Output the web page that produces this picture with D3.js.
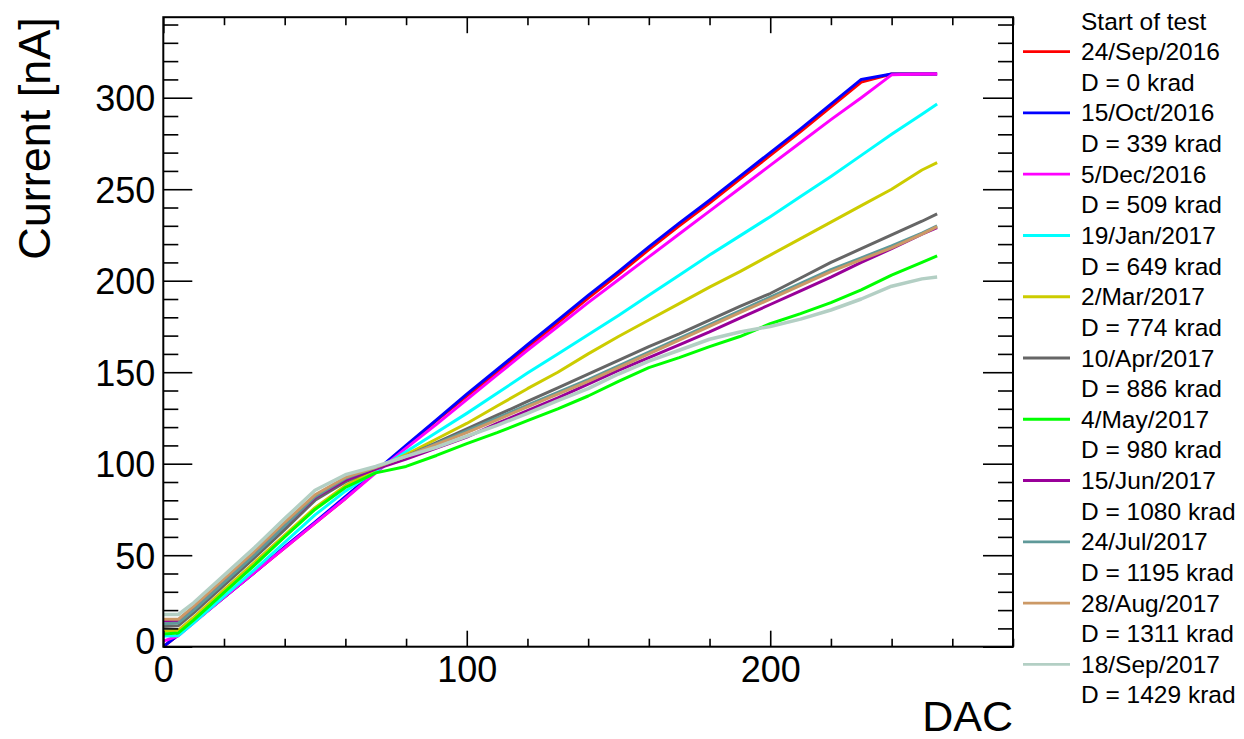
<!DOCTYPE html>
<html>
<head>
<meta charset="utf-8">
<script src="https://cdn.jsdelivr.net/npm/d3@7"></script>
<style>
  html, body { margin: 0; padding: 0; background: #fff; }
  svg { display: block; font-family: "Liberation Sans", Arial, Helvetica, sans-serif; }
</style>
</head>
<body>
<svg id="chart" width="1244" height="739"></svg>
<script>
// ---------------- data ----------------
const dac = [0, 5, 10, 20, 30, 40, 50, 60, 70, 80, 90, 100, 110, 120, 130, 140, 150, 160, 170, 180, 190, 200, 210, 220, 230, 240, 250, 255];

const cur24Sep2016 = [0, 6.5, 13.5, 27, 40.5, 54, 67.5, 81, 95.5, 109.5, 123.5, 137, 150, 163.5, 177, 190.5, 203.5, 217, 230, 242.5, 255.5, 268.5, 281.5, 295, 308.5, 313, 313, 313];
const cur15Oct2016 = [0, 6.5, 13.5, 27, 40.5, 54.5, 68, 82, 96, 110, 124, 138, 151.5, 165, 178.5, 192, 205, 218.5, 231.5, 244, 257, 270, 283, 296.5, 310, 313, 313, 313];
const cur5Dec2016  = [3, 6, 13, 27, 40.5, 54, 67.5, 81, 95, 108.5, 121.5, 135, 148.5, 162, 175, 188, 200.5, 213, 225.5, 238, 250.5, 263, 275.5, 288, 300, 312.5, 313, 313];
const cur19Jan2017 = [5.8, 6, 13, 27.5, 42, 57, 72, 85, 96, 106.5, 117, 127.5, 138.5, 149.5, 160, 170.5, 181, 192, 203, 214, 224.5, 235, 246, 257, 268.5, 280, 291, 296.6];
const cur2Mar2017  = [8.5, 9, 16, 31, 46, 61, 76, 88, 97, 105, 113.5, 122, 131.5, 141, 150, 160, 169.5, 178.5, 187.5, 196.5, 205, 214, 223, 232, 241, 250, 260.5, 264.5];
const cur10Apr2017 = [11, 11.5, 18.5, 33.5, 48.5, 64, 80, 90, 97.5, 104, 111.5, 119, 126.5, 134, 141.5, 149, 156.5, 164, 171, 178.5, 186, 193, 201.5, 210, 217.5, 225, 232.5, 236.5];
const cur4May2017  = [7, 7.5, 14.5, 29.5, 44.5, 60, 75, 87, 95, 98.5, 104.5, 111, 117, 123.5, 130, 137, 145, 152.5, 158, 164, 169.5, 176.5, 182, 188, 195, 203, 210, 213.6];
const cur15Jun2017 = [14, 14, 20.5, 35.5, 50.5, 66, 81.5, 91, 97, 102.5, 108.5, 114.5, 122, 129, 136, 143.5, 151, 158, 165, 172, 179.5, 187, 194.5, 202, 210, 217.5, 225.5, 229];
const cur24Jul2017 = [12.5, 13, 20, 35, 50, 66, 82, 92, 98, 104, 111, 118, 125, 132, 139, 146, 153.5, 161, 168.5, 176, 183.5, 191, 198.5, 206, 212.5, 219, 226, 230];
const cur28Aug2017 = [15, 15, 22, 37, 52, 68, 83, 92.5, 98, 104, 110.5, 117, 124, 131, 138, 145, 152.5, 160, 167.5, 175, 182.5, 190, 197.5, 205, 211.5, 218, 225.5, 229.6];
const cur18Sep2017 = [17.6, 17.6, 24, 39, 54, 70, 85.5, 94, 98.5, 104, 109, 115, 121, 127.5, 134.5, 141, 149, 156, 162, 168, 172, 175, 179, 184, 190, 197, 201, 202];

const testDates = ["24/Sep/2016", "15/Oct/2016", "5/Dec/2016", "19/Jan/2017", "2/Mar/2017", "10/Apr/2017",
                   "4/May/2017", "15/Jun/2017", "24/Jul/2017", "28/Aug/2017", "18/Sep/2017"];
const doses = [0, 339, 509, 649, 774, 886, 980, 1080, 1195, 1311, 1429];
const seriesValues = [cur24Sep2016, cur15Oct2016, cur5Dec2016, cur19Jan2017, cur2Mar2017, cur10Apr2017,
                      cur4May2017, cur15Jun2017, cur24Jul2017, cur28Aug2017, cur18Sep2017];
const colors = ["#ff0000", "#0000ff", "#ff00ff", "#00ffff", "#cccc00", "#666666",
                "#00ff00", "#990099", "#5f9999", "#cc9966", "#b3cfc4"];

const xMajorTicks = [0, 100, 200];
const yMajorTicks = [0, 50, 100, 150, 200, 250, 300];
const xTitle = "DAC";
const yTitle = "Current [nA]";
const legendHeader = "Start of test";

// ---------------- layout ----------------
const svg = d3.select("#chart");
const L = 163.3, R = 1013, T = 17.2, B = 646.7;
const x = d3.scaleLinear().domain([0, 280]).range([L, R]);
const y = d3.scaleLinear().domain([0, 344]).range([B, T]);

svg.append("defs").append("clipPath").attr("id", "clip")
  .append("rect").attr("x", L).attr("y", T).attr("width", R - L).attr("height", B - T);

// curves
const line = d3.line().x(d => x(d[0])).y(d => y(d[1]));
const gLines = svg.append("g").attr("clip-path", "url(#clip)");
seriesValues.forEach((vals, i) => {
  gLines.append("path")
    .datum(dac.map((d, j) => [d, vals[j]]))
    .attr("d", line)
    .attr("fill", "none")
    .attr("stroke", colors[i])
    .attr("stroke-width", i === 10 ? 3.5 : 3)
    .attr("stroke-linejoin", "round");
});

// axes
const xMinor = d3.range(0, 281, 20).filter(v => !xMajorTicks.includes(v));
const yMinor = d3.range(0, 345, 10).filter(v => !yMajorTicks.includes(v));

function styleAxis(g) {
  g.select(".domain").remove();
  g.selectAll(".tick line").attr("stroke", "#000").attr("stroke-width", 1.6);
}

// bottom
svg.append("g").attr("transform", `translate(0,${B})`)
  .call(d3.axisBottom(x).tickValues(xMajorTicks).tickSize(-16).tickFormat(d3.format("d")))
  .call(styleAxis)
  .call(g => g.selectAll(".tick text").attr("font-size", 36).attr("fill", "#000")
      .attr("font-family", "Liberation Sans, Arial, sans-serif")
      .attr("y", 35).attr("dy", 0));
svg.append("g").attr("transform", `translate(0,${B})`)
  .call(d3.axisBottom(x).tickValues(xMinor).tickSize(-8).tickFormat(""))
  .call(styleAxis);
// top
svg.append("g").attr("transform", `translate(0,${T})`)
  .call(d3.axisTop(x).tickValues(xMajorTicks).tickSize(-16).tickFormat(""))
  .call(styleAxis);
svg.append("g").attr("transform", `translate(0,${T})`)
  .call(d3.axisTop(x).tickValues(xMinor).tickSize(-8).tickFormat(""))
  .call(styleAxis);
// left
svg.append("g").attr("transform", `translate(${L},0)`)
  .call(d3.axisLeft(y).tickValues(yMajorTicks).tickSize(-29).tickFormat(d3.format("d")))
  .call(styleAxis)
  .call(g => g.selectAll(".tick text").attr("font-size", 36).attr("fill", "#000")
      .attr("font-family", "Liberation Sans, Arial, sans-serif")
      .attr("x", -8).attr("dy", d => d === 0 ? "0.2em" : "0.36em"));
svg.append("g").attr("transform", `translate(${L},0)`)
  .call(d3.axisLeft(y).tickValues(yMinor).tickSize(-15).tickFormat(""))
  .call(styleAxis);
// right
svg.append("g").attr("transform", `translate(${R},0)`)
  .call(d3.axisRight(y).tickValues(yMajorTicks).tickSize(-30).tickFormat(""))
  .call(styleAxis);
svg.append("g").attr("transform", `translate(${R},0)`)
  .call(d3.axisRight(y).tickValues(yMinor).tickSize(-15).tickFormat(""))
  .call(styleAxis);

// frame
svg.append("rect").attr("x", L).attr("y", T).attr("width", R - L).attr("height", B - T)
  .attr("fill", "none").attr("stroke", "#000").attr("stroke-width", 2);

// axis titles
svg.append("text").attr("x", R).attr("y", 731).attr("text-anchor", "end")
  .attr("font-size", 43).attr("fill", "#000").text(xTitle);
svg.append("text").attr("transform", `translate(50,${T}) rotate(-90)`).attr("text-anchor", "end")
  .attr("font-size", 45).attr("fill", "#000").text(yTitle);

// legend
const legX = 1081, lineX0 = 1023, lineX1 = 1070;
const lg = svg.append("g").attr("font-size", 24.5).attr("fill", "#000");
lg.append("text").attr("x", legX).attr("y", 30).text(legendHeader);
testDates.forEach((dt, i) => {
  const cy = 51.7 + i * 61.26;
  lg.append("line").attr("x1", lineX0).attr("x2", lineX1).attr("y1", cy).attr("y2", cy)
    .attr("stroke", colors[i]).attr("stroke-width", 2.8);
  lg.append("text").attr("x", legX).attr("y", cy + 8.5).text(dt);
  lg.append("text").attr("x", legX).attr("y", cy + 8.5 + 30.6).text(`D = ${doses[i]} krad`);
});
</script>
</body>
</html>
